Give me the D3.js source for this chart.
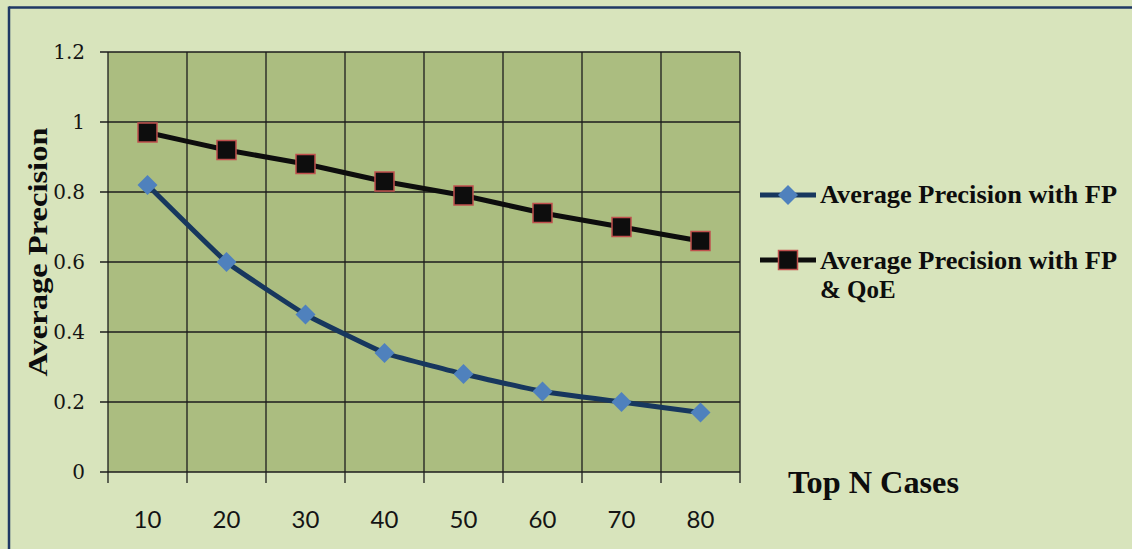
<!DOCTYPE html>
<html>
<head>
<meta charset="utf-8">
<script src="https://cdn.jsdelivr.net/npm/d3@7"></script>
<style>
  html, body { margin: 0; padding: 0; background: #d8e4bc; }
  svg { display: block; }
</style>
</head>
<body>
<svg id="chart" width="1132" height="549"></svg>
<script>
// Categories and series values
const categories = ["10", "20", "30", "40", "50", "60", "70", "80"];
const precisionFP = [0.82, 0.60, 0.45, 0.34, 0.28, 0.23, 0.20, 0.17];
const precisionFPQoE = [0.97, 0.92, 0.88, 0.83, 0.79, 0.74, 0.70, 0.66];
const yTicks = [0, 0.2, 0.4, 0.6, 0.8, 1, 1.2];
const seriesNames = ["Average Precision with FP", "Average Precision with FP", "& QoE"];

const svg = d3.select("#chart");
const W = 1132, H = 549;
const plot = { left: 108, right: 740, top: 52, bottom: 472 };

// Chart background and frame (top + left edges)
svg.append("rect").attr("width", W).attr("height", H).attr("fill", "#d8e4bc");
svg.append("line").attr("x1", 9).attr("x2", W).attr("y1", 7.5).attr("y2", 7.5)
  .attr("stroke", "#1f3864").attr("stroke-width", 2.5);
svg.append("line").attr("x1", 9).attr("x2", 9).attr("y1", 6.5).attr("y2", H)
  .attr("stroke", "#1f3864").attr("stroke-width", 2.5);

const x = d3.scaleBand().domain(categories).range([plot.left, plot.right]);
const y = d3.scaleLinear().domain([0, 1.2]).range([plot.bottom, plot.top]);

// Plot area
svg.append("rect")
  .attr("x", plot.left).attr("y", plot.top)
  .attr("width", plot.right - plot.left).attr("height", plot.bottom - plot.top)
  .attr("fill", "#abbd80");

// Gridlines
const gridColor = "#1c1c1c";
svg.append("g").selectAll("line").data(yTicks).join("line")
  .attr("x1", plot.left - 8).attr("x2", plot.right)
  .attr("y1", d => y(d)).attr("y2", d => y(d))
  .attr("stroke", gridColor).attr("stroke-width", 1.3);
const edges = categories.map(c => x(c)).concat([x(categories[categories.length - 1]) + x.bandwidth()]);
svg.append("g").selectAll("line").data(edges).join("line")
  .attr("x1", d => d).attr("x2", d => d)
  .attr("y1", plot.top).attr("y2", plot.bottom + 11)
  .attr("stroke", gridColor).attr("stroke-width", 1.3);

// Y axis labels
const yAxis = d3.axisLeft(y).tickValues(yTicks).tickSize(0).tickPadding(23)
  .tickFormat(d => d3.format("~g")(d));
const gy = svg.append("g").attr("transform", `translate(${plot.left},0)`).call(yAxis);
gy.select(".domain").remove();
gy.selectAll("text")
  .attr("font-family", "'DejaVu Serif', serif").attr("font-size", 20)
  .attr("fill", "#141414");

// X axis labels
const xAxis = d3.axisBottom(x).tickSize(0).tickPadding(0);
const gx = svg.append("g").attr("transform", `translate(0,${plot.bottom})`).call(xAxis);
gx.select(".domain").remove();
gx.selectAll("text")
  .attr("dy", null).attr("y", 56)
  .attr("font-family", "Lato, sans-serif").attr("font-size", 24)
  .attr("fill", "#141414");

// Series lines (smoothed)
const line = d3.line()
  .x((d, i) => x(categories[i]) + x.bandwidth() / 2)
  .y(d => y(d))
  .curve(d3.curveCardinal.tension(0.7));
svg.append("path").datum(precisionFP)
  .attr("d", line).attr("fill", "none")
  .attr("stroke", "#17375e").attr("stroke-width", 5).attr("stroke-linejoin", "round");
svg.append("path").datum(precisionFPQoE)
  .attr("d", line).attr("fill", "none")
  .attr("stroke", "#0d0d0d").attr("stroke-width", 5).attr("stroke-linejoin", "round");

// Markers
const diamond = d3.symbol().type(d3.symbolSquare).size(200);
svg.append("g").selectAll("path").data(precisionFP).join("path")
  .attr("d", diamond)
  .attr("transform", (d, i) => `translate(${x(categories[i]) + x.bandwidth() / 2},${y(d)}) rotate(45)`)
  .attr("fill", "#4f81bd");
svg.append("g").selectAll("rect").data(precisionFPQoE).join("rect")
  .attr("x", (d, i) => x(categories[i]) + x.bandwidth() / 2 - 9.5)
  .attr("y", d => y(d) - 9.5)
  .attr("width", 19).attr("height", 19)
  .attr("fill", "#0d0d0d").attr("stroke", "#c0504d").attr("stroke-width", 1.5);

// Legend
const serif = "'Liberation Serif', 'Times New Roman', serif";
const lg = svg.append("g");
lg.append("line").attr("x1", 760).attr("x2", 816).attr("y1", 195).attr("y2", 195)
  .attr("stroke", "#17375e").attr("stroke-width", 5);
lg.append("path").attr("d", diamond).attr("transform", "translate(788,195) rotate(45)")
  .attr("fill", "#4f81bd");
lg.append("line").attr("x1", 760).attr("x2", 816).attr("y1", 260).attr("y2", 260)
  .attr("stroke", "#0d0d0d").attr("stroke-width", 5);
lg.append("rect").attr("x", 778.5).attr("y", 250.5).attr("width", 19).attr("height", 19)
  .attr("fill", "#0d0d0d").attr("stroke", "#c0504d").attr("stroke-width", 1.5);
lg.append("text").attr("x", 820).attr("y", 203).text(seriesNames[0])
  .attr("textLength", 297).attr("lengthAdjust", "spacingAndGlyphs");
lg.append("text").attr("x", 820).attr("y", 269).text(seriesNames[1])
  .attr("textLength", 297).attr("lengthAdjust", "spacingAndGlyphs");
lg.append("text").attr("x", 820).attr("y", 298).text(seriesNames[2]);
lg.selectAll("text").attr("font-family", serif).attr("font-weight", "bold")
  .attr("font-size", 25).attr("fill", "#0d0d0d");

// Axis titles
svg.append("text").attr("x", 788).attr("y", 493).text("Top N Cases")
  .attr("textLength", 171).attr("lengthAdjust", "spacingAndGlyphs")
  .attr("font-family", serif).attr("font-weight", "bold").attr("font-size", 31)
  .attr("fill", "#0d0d0d");
svg.append("text")
  .attr("transform", "translate(47,252) rotate(-90)")
  .attr("text-anchor", "middle")
  .text("Average Precision")
  .attr("textLength", 249).attr("lengthAdjust", "spacingAndGlyphs")
  .attr("font-family", serif).attr("font-weight", "bold").attr("font-size", 28)
  .attr("fill", "#0d0d0d");
</script>
</body>
</html>
